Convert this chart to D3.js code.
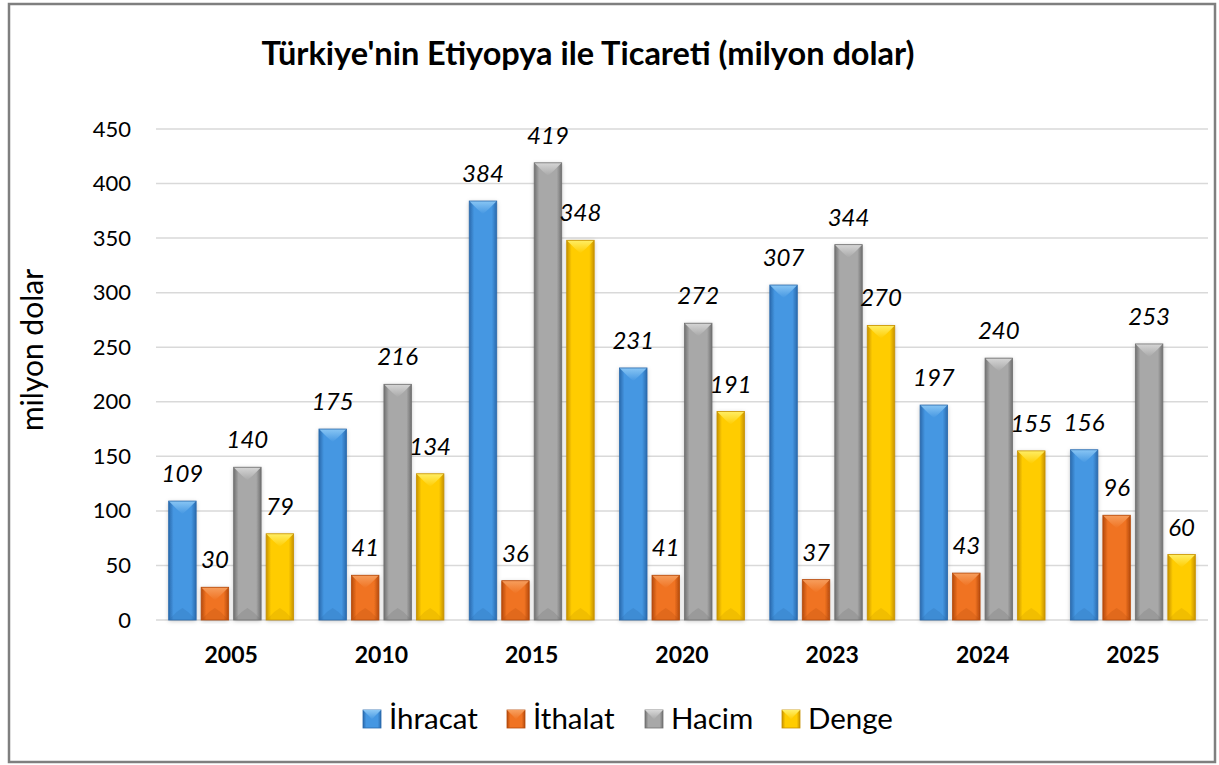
<!DOCTYPE html>
<html>
<head>
<meta charset="utf-8">
<script src="https://cdn.jsdelivr.net/npm/d3@7"></script>
<style>
  body { margin: 0; background: #fff; }
  svg text { font-family: Lato, "Open Sans", sans-serif; }
</style>
</head>
<body>
<div class="chart-container"></div>
<script>
const svgWidth = 1219;
const svgHeight = 765;

const years = ["2005", "2010", "2015", "2020", "2023", "2024", "2025"];
const seriesNames = ["İhracat", "İthalat", "Hacim", "Denge"];
const ihracat = [109, 175, 384, 231, 307, 197, 156];
const ithalat = [30, 41, 36, 41, 37, 43, 96];
const hacim = [140, 216, 419, 272, 344, 240, 253];
const denge = [79, 134, 348, 191, 270, 155, 60];
const yTicks = [0, 50, 100, 150, 200, 250, 300, 350, 400, 450];

// colours per series: edge, mid, light (bevel top)
const palette = [
  {edge: "#2a6aad", mid: "#4597e2", light: "#8cc8f5"},
  {edge: "#b54a0c", mid: "#f07322", light: "#f7a060"},
  {edge: "#707070", mid: "#a8a8a8", light: "#d8d8d8"},
  {edge: "#c79200", mid: "#ffcc00", light: "#fff06a"}
];

const seriesValues = [ihracat, ithalat, hacim, denge];
let rows = [];
years.forEach(function(yr, i) {
  seriesValues.forEach(function(vals, s) {
    rows.push({year: yr, s: s, value: vals[i]});
  });
});

const svg = d3.select(".chart-container")
  .append("svg")
  .attr("width", svgWidth)
  .attr("height", svgHeight);

const defs = svg.append("defs");
palette.forEach(function(p, s) {
  const grad = defs.append("linearGradient")
    .attr("id", "grad" + s)
    .attr("x1", "0%").attr("x2", "100%").attr("y1", "0%").attr("y2", "0%");
  grad.append("stop").attr("offset", "0%").attr("stop-color", p.edge);
  grad.append("stop").attr("offset", "18%").attr("stop-color", p.mid);
  grad.append("stop").attr("offset", "82%").attr("stop-color", p.mid);
  grad.append("stop").attr("offset", "100%").attr("stop-color", p.edge);

  const top = defs.append("linearGradient")
    .attr("id", "top" + s)
    .attr("x1", "0%").attr("x2", "0%").attr("y1", "0%").attr("y2", "100%");
  top.append("stop").attr("offset", "0%").attr("stop-color", p.light);
  top.append("stop").attr("offset", "100%").attr("stop-color", p.mid);
});

const shadow = defs.append("filter").attr("id", "shadow")
  .attr("x", "-30%").attr("y", "-10%").attr("width", "160%").attr("height", "120%");
shadow.append("feDropShadow")
  .attr("dx", 0).attr("dy", 1).attr("stdDeviation", 2)
  .attr("flood-color", "#000").attr("flood-opacity", 0.25);

// frame
svg.append("rect")
  .attr("x", 9).attr("y", 4)
  .attr("width", 1206).attr("height", 758)
  .attr("fill", "none")
  .attr("stroke", "#7f7f7f")
  .attr("stroke-width", 2.5);

const xScale = d3.scaleBand().domain(years).range([156, 1208]);
const xSub = d3.scaleBand().domain(d3.range(seriesNames.length))
  .range([0, xScale.bandwidth()])
  .paddingInner(0.154)
  .paddingOuter(0.39);
const yScale = d3.scaleLinear().domain([0, 450]).range([620, 129]);

// gridlines
svg.append("g")
  .selectAll("line")
  .data(yTicks)
  .enter()
  .append("line")
  .attr("x1", 156).attr("x2", 1208)
  .attr("y1", function(d) { return yScale(d); })
  .attr("y2", function(d) { return yScale(d); })
  .attr("stroke", "#d9d9d9")
  .attr("stroke-width", 1.5);

// y axis
const yAxis = d3.axisLeft(yScale).tickValues(yTicks).tickSize(0).tickPadding(0);
const yG = svg.append("g").attr("transform", "translate(131,0)").call(yAxis);
yG.select(".domain").remove();
yG.selectAll("text")
  .style("font-size", "22px")
  .style("font-family", "Lato, sans-serif")
  .attr("fill", "#000");

// x axis
const xAxis = d3.axisBottom(xScale).tickSize(0).tickPadding(0);
const xG = svg.append("g").attr("transform", "translate(0,647)").call(xAxis);
xG.select(".domain").remove();
xG.selectAll("text")
  .style("font-size", "23px")
  .style("font-weight", "bold")
  .style("font-family", "Lato, sans-serif")
  .attr("fill", "#000");

// bars
const bars = svg.append("g").selectAll("g.bar")
  .data(rows)
  .enter()
  .append("g")
  .attr("class", "bar")
  .attr("transform", function(d) { return "translate(" + (xScale(d.year) + xSub(d.s)) + ",0)"; });

const bw = xSub.bandwidth();
const bev = 8;

bars.append("rect")
  .attr("x", 0)
  .attr("y", function(d) { return yScale(d.value); })
  .attr("width", bw)
  .attr("height", function(d) { return yScale(0) - yScale(d.value); })
  .attr("fill", function(d) { return "url(#grad" + d.s + ")"; })
  .attr("filter", "url(#shadow)");

// top bevel
bars.append("path")
  .attr("d", function(d) {
    const y0 = yScale(d.value);
    const b = Math.min(bev, (yScale(0) - y0) / 2);
    return "M0," + y0 + "L" + bw + "," + y0 + "L" + (bw - b) + "," + (y0 + b) +
      "L" + (bw / 2) + "," + (y0 + b + 5) + "L" + b + "," + (y0 + b) + "Z";
  })
  .attr("fill", function(d) { return "url(#top" + d.s + ")"; })
  .attr("opacity", 0.95);

// bottom bevel
bars.append("path")
  .attr("d", function(d) {
    const y1 = yScale(0);
    const b = Math.min(bev, (y1 - yScale(d.value)) / 2);
    return "M0," + y1 + "L" + bw + "," + y1 + "L" + (bw - b) + "," + (y1 - b) +
      "L" + (bw / 2) + "," + (y1 - b - 4) + "L" + b + "," + (y1 - b) + "Z";
  })
  .attr("fill", function(d) { return palette[d.s].edge; })
  .attr("opacity", 0.25);

// outline
bars.append("rect")
  .attr("x", 0)
  .attr("y", function(d) { return yScale(d.value); })
  .attr("width", bw)
  .attr("height", function(d) { return yScale(0) - yScale(d.value); })
  .attr("fill", "none")
  .attr("stroke", function(d) { return palette[d.s].edge; })
  .attr("stroke-width", 0.8);

// value labels
bars.append("text")
  .attr("x", bw / 2)
  .attr("y", function(d) { return yScale(d.value) - 19; })
  .attr("text-anchor", "middle")
  .style("font-size", "24px")
  .style("font-style", "italic")
  .text(function(d) { return d.value; });

// title
svg.append("text")
  .attr("x", 588)
  .attr("y", 65)
  .attr("text-anchor", "middle")
  .style("font-size", "32.5px")
  .style("font-weight", "bold")
  .text("Türkiye'nin Etiyopya ile Ticareti (milyon dolar)");

// y label
svg.append("text")
  .attr("transform", "translate(43,350) rotate(-90)")
  .attr("text-anchor", "middle")
  .style("font-size", "30px")
  .text("milyon dolar");

// legend
const legendX = [363, 507, 645, 782];
const legend = svg.append("g").selectAll("g")
  .data(seriesNames)
  .enter()
  .append("g")
  .attr("transform", function(d, i) { return "translate(" + legendX[i] + ",710)"; });

legend.append("rect")
  .attr("width", 18).attr("height", 18)
  .attr("fill", function(d, i) { return "url(#grad" + i + ")"; })
  .attr("stroke", function(d, i) { return palette[i].edge; })
  .attr("stroke-width", 0.8);
legend.append("path")
  .attr("d", "M0,0L18,0L12,6L9,9.5L6,6Z")
  .attr("fill", function(d, i) { return "url(#top" + i + ")"; });
legend.append("text")
  .attr("x", 26)
  .attr("y", 19)
  .style("font-size", "29.5px")
  .text(function(d) { return d; });
</script>
</body>
</html>
